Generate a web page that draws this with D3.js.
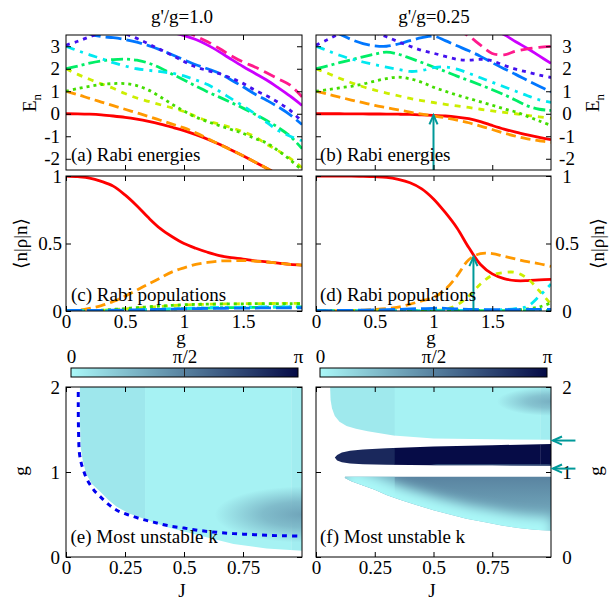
<!DOCTYPE html>
<html><head><meta charset="utf-8">
<script src="https://cdn.jsdelivr.net/npm/d3@7"></script>
<style>
body{margin:0;background:#fff}
svg{display:block}
text{font-family:"Liberation Serif","DejaVu Serif","DejaVu Sans",serif;font-size:19px;fill:#000}
</style></head><body>
<svg id="c" width="612" height="602"></svg>
<script>
// ================= DATA =================
const gGrid=[0,0.1,0.2,0.3,0.4,0.5,0.6,0.7,0.8,0.9,1.0,1.1,1.2,1.3,1.4,1.5,1.6,1.7,1.8,1.9,2.0];
const titles=["g'/g=1.0","g'/g=0.25"];

// (a) Rabi energies, g'/g = 1.0  (null = off the top of the chart)
const E0a=[0,-0.005,-0.02,-0.05,-0.1,-0.16,-0.24,-0.34,-0.46,-0.6,-0.75,-0.93,-1.13,-1.36,-1.61,-1.87,-2.14,-2.42,-2.71,-3.0,-3.3];
const E1a=[1.0,0.85,0.68,0.52,0.36,0.2,0.04,-0.12,-0.29,-0.46,-0.63,-0.85,-1.1,-1.36,-1.61,-1.87,-2.14,-2.42,-2.71,-3.0,-3.3];
const E2a=[2.0,1.75,1.53,1.33,1.13,0.9,0.7,0.55,0.4,0.26,0.1,-0.12,-0.32,-0.46,-0.62,-0.8,-1.02,-1.35,-1.65,-1.98,-2.4];
const E3a=[1.0,1.12,1.22,1.3,1.34,1.34,1.25,1.05,0.75,0.42,0.12,-0.15,-0.35,-0.53,-0.7,-0.87,-1.1,-1.3,-1.65,-2.05,-2.5];
const E4a=[2.0,2.12,2.25,2.35,2.41,2.43,2.38,2.25,2.03,1.76,1.5,1.23,0.97,0.74,0.5,0.25,-0.02,-0.3,-0.62,-1.0,-1.55];
const E5a=[3.0,2.8,2.62,2.45,2.27,2.12,2.0,1.93,1.87,1.8,1.68,1.5,1.3,1.0,0.67,0.35,0.0,-0.38,-0.75,-1.0,-1.2];
const E6a=[4.0,3.8,3.55,3.43,3.38,3.3,3.18,3.03,2.84,2.62,2.4,2.18,2.0,1.8,1.5,1.2,0.88,0.6,0.3,-0.05,-0.48];
const E7a=[3.05,3.22,3.42,3.6,3.65,3.55,3.35,3.1,2.85,2.6,2.32,2.08,1.92,1.78,1.58,1.35,1.05,0.8,0.5,0.15,-0.35];
const E8a=[null,null,null,null,null,null,null,null,null,3.62,3.47,3.3,3.05,2.75,2.42,2.1,1.8,1.5,1.15,0.78,0.37];
const E9a=[null,null,null,null,null,null,null,null,null,null,3.7,3.45,3.2,2.9,2.58,2.3,2.08,1.82,1.55,1.27,0.75];

// (b) Rabi energies, g'/g = 0.25
const E0b=[0,0,0,-0.005,-0.01,-0.01,-0.015,-0.02,-0.03,-0.05,-0.07,-0.1,-0.15,-0.22,-0.35,-0.52,-0.68,-0.82,-0.94,-1.05,-1.15];
const E1b=[1.0,0.87,0.74,0.61,0.49,0.37,0.27,0.17,0.07,-0.02,-0.1,-0.18,-0.28,-0.4,-0.55,-0.7,-0.86,-1.0,-1.12,-1.2,-1.27];
const E2b=[2.0,1.8,1.58,1.38,1.2,1.05,0.92,0.8,0.68,0.58,0.5,0.42,0.35,0.28,0.2,0.13,0.06,0.0,-0.07,-0.14,-0.2];
const E3b=[1.0,1.07,1.15,1.22,1.32,1.45,1.56,1.63,1.55,1.4,1.18,1.0,0.83,0.68,0.53,0.38,0.22,0.08,-0.12,-0.32,-0.52];
const E4b=[2.0,2.13,2.27,2.4,2.53,2.65,2.74,2.65,2.47,2.28,2.08,1.88,1.67,1.48,1.28,1.07,0.85,0.6,0.35,0.2,0.15];
const E5b=[3.0,2.8,2.6,2.43,2.3,2.18,2.07,1.97,1.88,1.92,2.05,2.08,1.98,1.8,1.6,1.4,1.2,1.0,0.8,0.62,0.5];
const E6b=[4.0,3.78,3.55,3.3,3.12,3.02,3.0,3.1,3.25,3.38,3.45,3.25,3.02,2.8,2.55,2.27,2.0,1.75,1.48,1.22,0.97];
const E7b=[3.05,3.3,3.55,3.75,3.75,3.6,3.42,3.2,3.0,2.82,2.69,2.55,2.42,2.38,2.42,2.35,2.15,1.98,1.85,1.72,1.61];
const E8b=[null,null,null,null,null,null,null,null,null,null,null,null,null,null,null,3.75,3.52,3.2,2.9,2.57,2.24];
const E9b=[null,null,null,null,null,null,null,null,null,null,null,null,3.75,3.45,3.05,2.68,2.62,2.78,2.88,2.95,3.0];

// (c) Rabi populations, g'/g = 1.0
const P0c=[1.0,0.995,0.985,0.96,0.925,0.86,0.78,0.69,0.61,0.55,0.5,0.465,0.435,0.41,0.395,0.385,0.372,0.364,0.355,0.346,0.34];
const P1c=[0,0.005,0.02,0.04,0.07,0.11,0.155,0.2,0.245,0.29,0.32,0.345,0.36,0.37,0.372,0.373,0.37,0.363,0.355,0.346,0.34];
const P2c=[0,0,0.002,0.005,0.01,0.016,0.022,0.028,0.034,0.04,0.045,0.048,0.05,0.052,0.053,0.054,0.055,0.055,0.056,0.056,0.057];
const P3c=[0,0.001,0.003,0.006,0.012,0.018,0.025,0.031,0.037,0.042,0.046,0.049,0.051,0.052,0.053,0.053,0.054,0.054,0.055,0.055,0.055];
const P4c=[0,0,0,0.001,0.002,0.004,0.006,0.009,0.012,0.015,0.018,0.02,0.022,0.024,0.025,0.026,0.027,0.028,0.029,0.03,0.03];
const P5c=[0,0,0,0.001,0.002,0.004,0.007,0.01,0.013,0.016,0.019,0.022,0.024,0.026,0.027,0.028,0.029,0.03,0.03,0.031,0.031];
const P6c=[0.003,0.004,0.005,0.005,0.006,0.007,0.008,0.01,0.012,0.014,0.016,0.018,0.019,0.02,0.021,0.022,0.022,0.023,0.023,0.024,0.024];

// (d) Rabi populations, g'/g = 0.25
const P0d=[1,1,1,1,0.998,0.995,0.99,0.975,0.95,0.905,0.83,0.73,0.615,0.47,0.345,0.275,0.24,0.225,0.225,0.23,0.235];
const P1d=[0,0,0.002,0.004,0.007,0.011,0.017,0.028,0.05,0.075,0.1,0.16,0.26,0.38,0.425,0.425,0.405,0.385,0.365,0.35,0.33];
const P2d=[0,0,0,0,0,0,0,0.001,0.002,0.003,0.005,0.012,0.045,0.11,0.2,0.265,0.285,0.285,0.24,0.15,0.05];
const P3d=[0,0,0,0,0,0,0,0,0.001,0.002,0.003,0.005,0.006,0.005,0.004,0.004,0.005,0.008,0.015,0.03,0.06];
const P4d=[0,0,0,0,0,0,0,0,0,0.001,0.001,0.002,0.002,0.002,0.002,0.002,0.003,0.003,0.003,0.003,0.003];
const P5d=[0,0,0,0,0,0,0,0,0,0.001,0.002,0.003,0.004,0.005,0.006,0.007,0.01,0.018,0.035,0.11,0.2];
const P6d=[0.003,0.003,0.004,0.005,0.006,0.008,0.01,0.012,0.015,0.018,0.02,0.02,0.015,0.012,0.01,0.01,0.01,0.01,0.012,0.012,0.012];

// arrows (data coordinates)
const arrowB=[[1.0,-2.5],[1.0,-0.07]];
const arrowD=[[1.34,0],[1.34,0.4]];
const arrowsF=[[[1.104,1.37],[1.008,1.37]],[[1.104,1.04],[1.008,1.04]]];

// tick values / labels
const ticksE=[-2,-1,0,1,2,3];
const ticksG=[0,0.5,1,1.5];
const ticksP=[0,0.5,1];
const ticksJ=[0,0.25,0.5,0.75];
const ticksGy=[0,1,2];
const cbTicks=[0,Math.PI/2,Math.PI];
const cbLabels=["0","π/2","π"];

// (e) most unstable k, g'/g = 1.0
const eRegionEdge=[[0.059,2.0],[0.059,1.6],[0.062,1.3],[0.07,1.15],[0.085,0.98],[0.11,0.86],[0.144,0.77],[0.18,0.67],[0.215,0.59],[0.27,0.51],[0.33,0.45],[0.43,0.35],[0.57,0.25],[0.71,0.153],[0.85,0.1],[1.0,0.074]];
const eStripJ=[0,0.335,0.955,1.0];
const eStripK=[0.22,0.08,0.15];
const eBlob={J:1.0,g:0.5,rJ:0.37,rg:0.33,k:1.1};
const eCurveJ=[0.052,0.052,0.053,0.057,0.065,0.074,0.086,0.1,0.12,0.145,0.18,0.215,0.26,0.315,0.37,0.43,0.5,0.57,0.64,0.71,0.78,0.85,0.92,1.0];
const eCurveG=[1.94,1.8,1.5,1.22,1.1,1.02,0.93,0.86,0.78,0.71,0.62,0.55,0.5,0.45,0.41,0.37,0.34,0.31,0.29,0.275,0.265,0.255,0.25,0.247];

// (f) most unstable k, g'/g = 0.25
const fTopEdge=[[0.06,2.0],[0.062,1.85],[0.068,1.75],[0.08,1.66],[0.1,1.59],[0.13,1.54],[0.17,1.51],[0.22,1.48],[0.33,1.43],[0.5,1.395],[0.75,1.385],[1.0,1.38]];
const fTopStripK=[0.2,0.08,0.15];
const fTopBlob={J:1.0,g:1.83,rJ:0.23,rg:0.17,k:0.95};
const fMidTop=[[0.08,1.17],[0.09,1.2],[0.11,1.23],[0.145,1.25],[0.2,1.265],[0.3,1.28],[0.5,1.3],[0.75,1.315],[1.0,1.33]];
const fMidBottom=[[1.0,1.075],[0.75,1.078],[0.5,1.08],[0.3,1.085],[0.2,1.09],[0.145,1.1],[0.11,1.115],[0.09,1.135],[0.08,1.17]];
const fMidStripK=[2.75,3.12,3.12];
const fBotTopG=0.945;
const fBotLower=[[0.123,0.93],[0.15,0.89],[0.2,0.84],[0.25,0.79],[0.3,0.73],[0.36,0.67],[0.43,0.61],[0.5,0.55],[0.57,0.5],[0.64,0.45],[0.72,0.41],[0.79,0.37],[0.86,0.34],[0.93,0.32],[1.0,0.31]];
const fBotK=[0.85,1.55];      // at g=0.3 and g=0.95
const fBotEdgeK=0.0;
const fBotLeftK=0.45;

// ================= STYLES =================
const levelColor=["#ff0000","#ff9900","#ccee00","#44dd00","#00ee66","#00e8f0","#0077ff","#4411ee","#cc00ff","#ff1a8c"];
const levelDash=[null,"10,5","6,6","3,4","12,4,3,4","9,6,3,6","16,5","4,5",null,"12,6"];
const teal="#009999";
const kPalette=d3.scaleLinear().domain([0,Math.PI]).range(["#aaf8f8","#050a46"]).interpolate(d3.interpolateRgb);

// ================= DRAW =================
const svg=d3.select("#c");
const defs=svg.append("defs");
const colX=[[66,302],[316,551]];
const rowY={a:[35,170],c:[176,311],e:[387,557]};

function makePanel(col,row,xDom,yDom,id){
  const [x0,x1]=colX[col],[y0,y1]=rowY[row];
  const x=d3.scaleLinear().domain(xDom).range([x0,x1]);
  const y=d3.scaleLinear().domain(yDom).range([y1,y0]);
  defs.append("clipPath").attr("id","clip-"+id).append("rect")
    .attr("x",x0).attr("y",y0).attr("width",x1-x0).attr("height",y1-y0);
  const g=svg.append("g");
  const plot=g.append("g").attr("clip-path",`url(#clip-${id})`);
  return {x,y,g,plot,x0,x1,y0,y1,id};
}

function axes(p,o){
  const clean=s=>{s.select(".domain").remove();s.attr("font-size",null).attr("font-family",null);};
  p.g.append("g").attr("transform",`translate(0,${p.y1})`)
    .call(d3.axisBottom(p.x).tickValues(o.xt).tickSizeInner(-5).tickSizeOuter(0).tickPadding(3)
      .tickFormat(o.xl?(d=>String(d)):(()=>""))).call(clean);
  p.g.append("g").attr("transform",`translate(0,${p.y0})`)
    .call(d3.axisTop(p.x).tickValues(o.xt).tickSizeInner(-5).tickSizeOuter(0).tickFormat(()=>"")).call(clean);
  const fmtY=d=>String(d).replace("−","-");
  p.g.append("g").attr("transform",`translate(${p.x0},0)`)
    .call(d3.axisLeft(p.y).tickValues(o.yt).tickSizeInner(-5).tickSizeOuter(0).tickPadding(o.padL||6)
      .tickFormat(o.side==="left"?fmtY:(()=>""))).call(clean);
  const r=p.g.append("g").attr("transform",`translate(${p.x1},0)`)
    .call(d3.axisRight(p.y).tickValues(o.yt).tickSizeInner(-5).tickSizeOuter(0).tickPadding(6)
      .tickFormat(o.side==="right"?fmtY:(()=>""))).call(clean);
  r.selectAll("text").attr("text-anchor","middle").attr("x",16);
  p.g.append("rect").attr("x",p.x0).attr("y",p.y0).attr("width",p.x1-p.x0).attr("height",p.y1-p.y0)
    .attr("fill","none").attr("stroke","#000").attr("stroke-width",1);
}

function drawSeries(p,series){
  const line=d3.line().defined(d=>d[1]!==null).x(d=>p.x(d[0])).y(d=>p.y(d[1])).curve(d3.curveCatmullRom.alpha(0.5));
  series.forEach((s,i)=>{
    if(!s) return;
    const pts=gGrid.map((gv,j)=>[gv,s[j]]);
    const path=p.plot.append("path").attr("d",line(pts)).attr("fill","none")
      .attr("stroke",levelColor[i]).attr("stroke-width",2.8);
    if(levelDash[i]) path.attr("stroke-dasharray",levelDash[i]);
  });
}

function arrow(parent,p,from,to,len=10,ang=24){
  const x1=p.x(from[0]),y1=p.y(from[1]),x2=p.x(to[0]),y2=p.y(to[1]);
  const a=Math.atan2(y1-y2,x1-x2),r=ang*Math.PI/180;
  parent.append("line").attr("x1",x1).attr("y1",y1).attr("x2",x2).attr("y2",y2)
    .attr("stroke",teal).attr("stroke-width",2);
  parent.append("path").attr("d",`M${x2+len*Math.cos(a+r)},${y2+len*Math.sin(a+r)}L${x2},${y2}L${x2+len*Math.cos(a-r)},${y2+len*Math.sin(a-r)}`)
    .attr("fill","none").attr("stroke",teal).attr("stroke-width",2);
}

function label(x,y,txt,anchor="start"){
  return svg.append("text").attr("x",x).attr("y",y).attr("text-anchor",anchor).text(txt);
}
function vlabel(x,y,build){
  const t=svg.append("text").attr("transform",`translate(${x},${y}) rotate(-90)`).attr("text-anchor","middle");
  build(t);return t;
}

// ---- (a) ----
const pa=makePanel(0,"a",[0,2],[-2.5,3.5],"a");
drawSeries(pa,[E0a,E1a,E2a,E3a,E4a,E5a,E6a,E7a,E8a,E9a]);
axes(pa,{xt:[0.5,1,1.5],yt:ticksE,side:"left"});
// ---- (b) ----
const pb=makePanel(1,"a",[0,2],[-2.5,3.5],"b");
drawSeries(pb,[E0b,E1b,E2b,E3b,E4b,E5b,E6b,E7b,E8b,E9b]);
arrow(pb.plot,pb,arrowB[0],arrowB[1]);
axes(pb,{xt:[0.5,1,1.5],yt:ticksE,side:"right"});
// ---- (c) ----
const pc=makePanel(0,"c",[0,2],[0,1],"c");
drawSeries(pc,[P0c,P1c,P2c,P3c,P4c,P5c,P6c]);
axes(pc,{xt:ticksG,xl:true,yt:ticksP,side:"left",padL:4});
// ---- (d) ----
const pd=makePanel(1,"c",[0,2],[0,1],"d");
drawSeries(pd,[P0d,P1d,P2d,P3d,P4d,P5d,P6d]);
arrow(pd.plot,pd,arrowD[0],arrowD[1]);
axes(pd,{xt:ticksG,xl:true,yt:ticksP,side:"right"});

// ---- heatmap helpers ----
const polyPath=(p,pts)=>d3.line().x(d=>p.x(d[0])).y(d=>p.y(d[1]))(pts)+"Z";
function regionLayer(p,id,pts){
  defs.append("clipPath").attr("id",id).append("path").attr("d",polyPath(p,pts));
  return p.plot.append("g").attr("clip-path",`url(#${id})`);
}
function strips(layer,p,J,K){
  K.forEach((k,i)=>layer.append("rect").attr("x",p.x(J[i])).attr("y",p.y0)
    .attr("width",p.x(J[i+1])-p.x(J[i])+0.3).attr("height",p.y1-p.y0).attr("fill",kPalette(k)));
}
function blob(layer,p,b,id){
  const c=kPalette(b.k);
  const rg=defs.append("radialGradient").attr("id",id);
  [[0,1],[0.45,0.7],[1,0]].forEach(([o,op])=>rg.append("stop").attr("offset",o).attr("stop-color",c).attr("stop-opacity",op));
  layer.append("ellipse").attr("cx",p.x(b.J)).attr("cy",p.y(b.g))
    .attr("rx",p.x(b.J+b.rJ)-p.x(b.J)).attr("ry",p.y(b.g)-p.y(b.g+b.rg)).attr("fill",`url(#${id})`);
}
function blurFilter(id,sd){
  defs.append("filter").attr("id",id).attr("x","-50%").attr("y","-50%").attr("width","200%").attr("height","200%")
    .append("feGaussianBlur").attr("stdDeviation",sd);
}
blurFilter("blur6",6);blurFilter("blur2",2);

// ---- (e) ----
const pe=makePanel(0,"e",[0,1],[0,2],"e");
const eL=regionLayer(pe,"reg-e",eRegionEdge.concat([[1.0,2.0]]));
strips(eL,pe,eStripJ,eStripK);
blob(eL,pe,eBlob,"blob-e");
pe.plot.append("path").attr("d",d3.line().x((d,i)=>pe.x(eCurveJ[i])).y((d,i)=>pe.y(eCurveG[i])).curve(d3.curveCatmullRom.alpha(0.5))(eCurveJ))
  .attr("fill","none").attr("stroke","#0000ee").attr("stroke-width",3).attr("stroke-dasharray","5,5");
axes(pe,{xt:ticksJ,xl:true,yt:ticksGy,side:"left"});

// ---- (f) ----
const pf=makePanel(1,"e",[0,1],[0,2],"f");
const fT=regionLayer(pf,"reg-ft",fTopEdge.concat([[1.0,2.0]]));
strips(fT,pf,eStripJ,fTopStripK);
blob(fT,pf,fTopBlob,"blob-f");
const fM=regionLayer(pf,"reg-fm",fMidTop.concat(fMidBottom));
strips(fM,pf,eStripJ,fMidStripK);
fM.append("path").attr("d",d3.line().x(d=>pf.x(d[0])).y(d=>pf.y(d[1]))(fMidBottom.slice(0,3)))
  .attr("fill","none").attr("stroke",kPalette(1.7)).attr("stroke-width",5).attr("filter","url(#blur2)").attr("opacity",0.8);
const fBpoly=fBotLower.concat([[1.0,fBotTopG],[fBotLower[0][0],fBotTopG]]);
const fB=regionLayer(pf,"reg-fb",fBpoly);
const lg=defs.append("linearGradient").attr("id","grad-fb").attr("gradientUnits","userSpaceOnUse")
  .attr("x1",0).attr("x2",0).attr("y1",pf.y(0.3)).attr("y2",pf.y(0.95));
lg.append("stop").attr("offset",0).attr("stop-color",kPalette(fBotK[0]));
lg.append("stop").attr("offset",1).attr("stop-color",kPalette(fBotK[1]));
fB.append("rect").attr("x",pf.x0).attr("y",pf.y0).attr("width",pf.x1-pf.x0).attr("height",pf.y1-pf.y0).attr("fill","url(#grad-fb)");
fB.append("rect").attr("x",pf.x(0)).attr("y",pf.y0).attr("width",pf.x(0.335)-pf.x(0)).attr("height",pf.y1-pf.y0)
  .attr("fill",kPalette(fBotLeftK)).attr("opacity",0.5);
fB.append("path").attr("d",d3.line().x(d=>pf.x(d[0])).y(d=>pf.y(d[1]))(fBotLower))
  .attr("fill","none").attr("stroke",kPalette(fBotEdgeK)).attr("stroke-width",26).attr("filter","url(#blur6)");
axes(pf,{xt:ticksJ,xl:true,yt:ticksGy,side:"right"});
arrowsF.forEach(a=>arrow(svg,pf,a[0],a[1]));

// ---- colorbars ----
function colorbar(x0,x1,id){
  const s=d3.scaleLinear().domain([0,Math.PI]).range([x0,x1]);
  const gr=defs.append("linearGradient").attr("id",id);
  gr.append("stop").attr("offset",0).attr("stop-color",kPalette(0));
  gr.append("stop").attr("offset",1).attr("stop-color",kPalette(Math.PI));
  const g=svg.append("g");
  g.append("rect").attr("x",x0).attr("y",368).attr("width",x1-x0).attr("height",9)
    .attr("fill",`url(#${id})`).attr("stroke","#000").attr("stroke-width",1);
  g.append("g").attr("transform","translate(0,368)")
    .call(d3.axisTop(s).tickValues(cbTicks).tickFormat((d,i)=>cbLabels[i]).tickSize(0).tickPadding(5))
    .call(a=>{a.select(".domain").remove();a.attr("font-size",null).attr("font-family",null);});
  cbTicks.slice(1,-1).forEach(t=>g.append("line").attr("x1",s(t)).attr("x2",s(t)).attr("y1",368).attr("y2",377)
    .attr("stroke","#222").attr("stroke-width",1));
}
colorbar(71,298,"cb-e");
colorbar(320,547,"cb-f");

// ---- texts ----
label(182,22.5,titles[0],"middle");
label(434,22.5,titles[1],"middle");
label(71,160.5,"(a) Rabi energies");
label(320,160.5,"(b) Rabi energies");
label(71,301,"(c) Rabi populations");
label(320,301,"(d) Rabi populations");
label(70.5,542.7,"(e) Most unstable k");
label(320,542.7,"(f) Most unstable k");
label(181,344,"g","middle");
label(431,344,"g","middle");
label(182,597,"J","middle");
label(432,597,"J","middle");
const En=t=>{t.append("tspan").text("E");t.append("tspan").attr("font-size","13px").attr("dy",5).text("n");};
vlabel(36,103,En);
vlabel(599,103,En);
vlabel(27,243.5,t=>t.text("⟨n|ρ|n⟩"));
vlabel(604,243.5,t=>t.text("⟨n|ρ|n⟩"));
vlabel(27,471,t=>t.text("g"));
vlabel(602,471,t=>t.text("g"));
</script>
</body></html>
